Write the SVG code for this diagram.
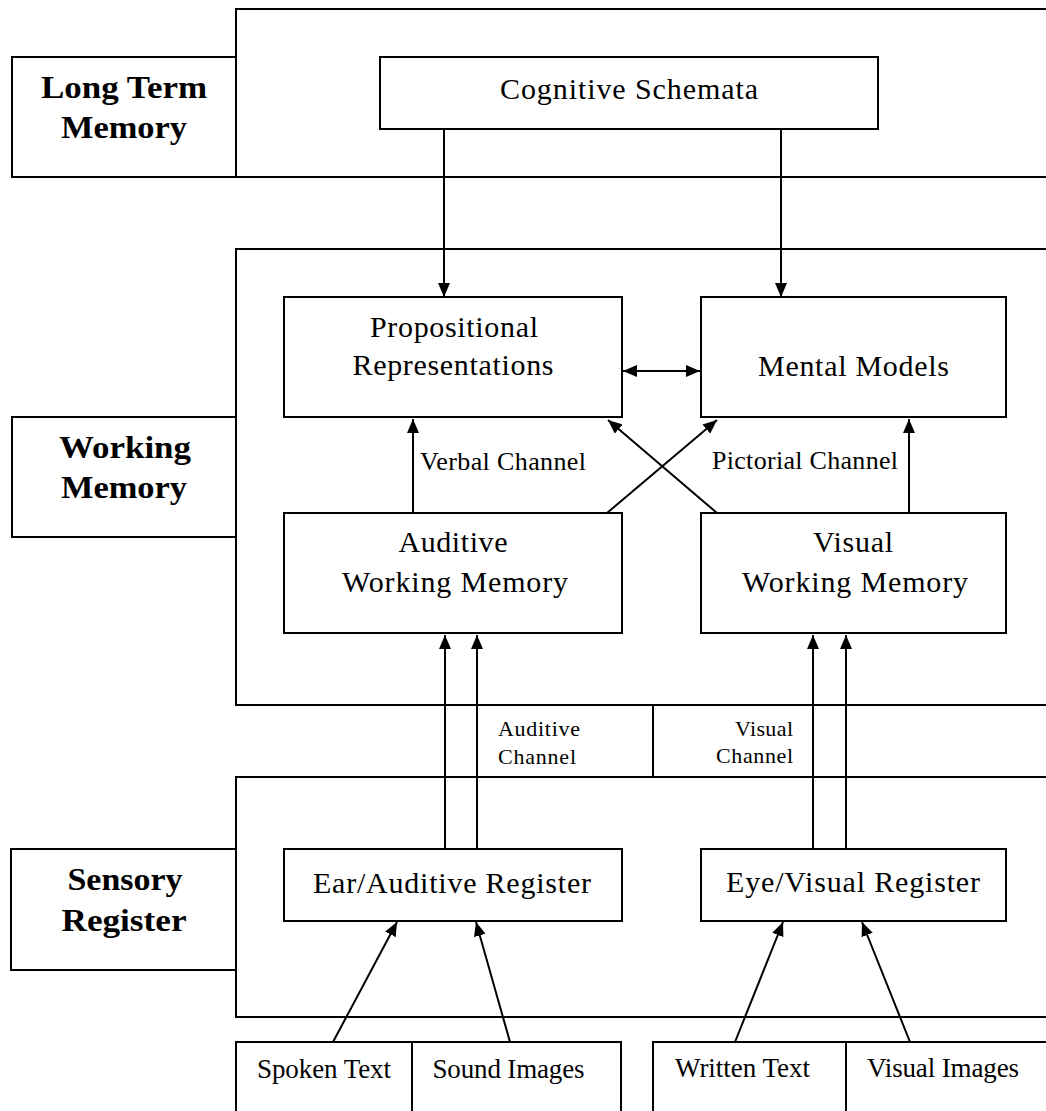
<svg xmlns="http://www.w3.org/2000/svg" width="1046" height="1111" viewBox="0 0 1046 1111">
<style>
.b{fill:#fff;stroke:#000;stroke-width:2}
.c{fill:none;stroke:#000;stroke-width:2}
text{font-family:"Liberation Serif","Times New Roman",serif;fill:#000}
.h{font-weight:bold;font-size:32px;text-anchor:middle}
.t{font-size:30px;text-anchor:middle}
.m{font-size:26px}
.s{font-size:22px}
.f{font-size:27px;text-anchor:middle}
</style>
<defs>
<marker id="ah" viewBox="0 0 14 12" refX="14" refY="6" markerWidth="14" markerHeight="12" markerUnits="userSpaceOnUse" orient="auto-start-reverse">
<path d="M0,0 L14,6 L0,12 Z" fill="#000"/>
</marker>
</defs>
<rect width="1046" height="1111" fill="#fff"/>
<g id="panels">
<rect id="ltm-panel" class="b" x="236" y="9" width="830" height="168"/>
<rect id="wm-panel" class="b" x="236" y="249" width="830" height="456"/>
<rect id="sr-panel" class="b" x="236" y="777" width="830" height="240"/>
<line class="c" x1="653" y1="705" x2="653" y2="777"/>
</g>
<g id="ltm-label">
<rect class="b" x="12" y="57" width="224" height="120"/>
<text class="h" x="124" y="98" textLength="166" lengthAdjust="spacingAndGlyphs">Long Term</text>
<text class="h" x="124" y="138" textLength="126" lengthAdjust="spacingAndGlyphs">Memory</text>
</g>
<g id="wm-label">
<rect class="b" x="12" y="417" width="224" height="120"/>
<text class="h" x="125" y="458" textLength="132" lengthAdjust="spacingAndGlyphs">Working</text>
<text class="h" x="124" y="498" textLength="126" lengthAdjust="spacingAndGlyphs">Memory</text>
</g>
<g id="sr-label">
<rect class="b" x="11" y="849" width="225" height="121"/>
<text class="h" x="125" y="890" textLength="115" lengthAdjust="spacingAndGlyphs">Sensory</text>
<text class="h" x="124" y="931" textLength="125" lengthAdjust="spacingAndGlyphs">Register</text>
</g>
<g id="cognitive-schemata">
<rect class="b" x="380" y="57" width="498" height="72"/>
<text class="t" x="629" y="99" textLength="258" lengthAdjust="spacing">Cognitive Schemata</text>
</g>
<g id="propositional">
<rect class="b" x="284" y="297" width="338" height="120"/>
<text class="t" x="454" y="337" textLength="168" lengthAdjust="spacing">Propositional</text>
<text class="t" x="453" y="375" textLength="201" lengthAdjust="spacing">Representations</text>
</g>
<g id="mental-models">
<rect class="b" x="701" y="297" width="305" height="120"/>
<text class="t" x="853.5" y="376" textLength="191" lengthAdjust="spacing">Mental Models</text>
</g>
<g id="auditive-wm">
<rect class="b" x="284" y="513" width="338" height="120"/>
<text class="t" x="453" y="552" textLength="109" lengthAdjust="spacing">Auditive</text>
<text class="t" x="455" y="592" textLength="226" lengthAdjust="spacing">Working Memory</text>
</g>
<g id="visual-wm">
<rect class="b" x="701" y="513" width="305" height="120"/>
<text class="t" x="853" y="552" textLength="80" lengthAdjust="spacing">Visual</text>
<text class="t" x="855" y="592" textLength="226" lengthAdjust="spacing">Working Memory</text>
</g>
<g id="ear-register">
<rect class="b" x="284" y="849" width="338" height="72"/>
<text class="t" x="452" y="893" textLength="278" lengthAdjust="spacing">Ear/Auditive Register</text>
</g>
<g id="eye-register">
<rect class="b" x="701" y="849" width="305" height="72"/>
<text class="t" x="853" y="892" textLength="254" lengthAdjust="spacing">Eye/Visual Register</text>
</g>
<g id="spoken-text">
<rect class="b" x="236" y="1042" width="176" height="100"/>
<text class="f" x="324" y="1078" textLength="134" lengthAdjust="spacing">Spoken Text</text>
</g>
<g id="sound-images">
<rect class="b" x="412" y="1042" width="209" height="100"/>
<text class="f" x="508.5" y="1078" textLength="152" lengthAdjust="spacing">Sound Images</text>
</g>
<g id="written-text">
<rect class="b" x="653" y="1042" width="193" height="100"/>
<text class="f" x="742.5" y="1077" textLength="135" lengthAdjust="spacing">Written Text</text>
</g>
<g id="visual-images">
<rect class="b" x="846" y="1042" width="220" height="100"/>
<text class="f" x="943" y="1077" textLength="152" lengthAdjust="spacing">Visual Images</text>
</g>
<g id="connectors">
<line class="c" x1="444" y1="129" x2="444" y2="297" marker-end="url(#ah)"/>
<line class="c" x1="781" y1="129" x2="781" y2="297" marker-end="url(#ah)"/>
<line class="c" x1="623" y1="371" x2="700" y2="371" marker-start="url(#ah)" marker-end="url(#ah)"/>
<line class="c" x1="413" y1="513" x2="413" y2="419" marker-end="url(#ah)"/>
<line class="c" x1="909" y1="513" x2="909" y2="419" marker-end="url(#ah)"/>
<line class="c" x1="607" y1="513" x2="717" y2="420" marker-end="url(#ah)"/>
<line class="c" x1="717" y1="513" x2="608" y2="420" marker-end="url(#ah)"/>
<line class="c" x1="445" y1="849" x2="445" y2="635" marker-end="url(#ah)"/>
<line class="c" x1="477" y1="849" x2="477" y2="635" marker-end="url(#ah)"/>
<line class="c" x1="813" y1="849" x2="813" y2="635" marker-end="url(#ah)"/>
<line class="c" x1="846" y1="849" x2="846" y2="635" marker-end="url(#ah)"/>
<line class="c" x1="333" y1="1042" x2="397" y2="922" marker-end="url(#ah)"/>
<line class="c" x1="510" y1="1042" x2="476" y2="922" marker-end="url(#ah)"/>
<line class="c" x1="735" y1="1042" x2="783" y2="922" marker-end="url(#ah)"/>
<line class="c" x1="910" y1="1042" x2="862" y2="922" marker-end="url(#ah)"/>
<text class="m" x="420" y="470" textLength="166" lengthAdjust="spacing">Verbal Channel</text>
<text class="m" x="712" y="469" textLength="186" lengthAdjust="spacing">Pictorial Channel</text>
<text class="s" x="498" y="736" textLength="82" lengthAdjust="spacing">Auditive</text>
<text class="s" x="498" y="764" textLength="78" lengthAdjust="spacing">Channel</text>
<text class="s" x="793" y="736" text-anchor="end" textLength="58" lengthAdjust="spacing">Visual</text>
<text class="s" x="793" y="763" text-anchor="end" textLength="77" lengthAdjust="spacing">Channel</text>
</g>
</svg>
